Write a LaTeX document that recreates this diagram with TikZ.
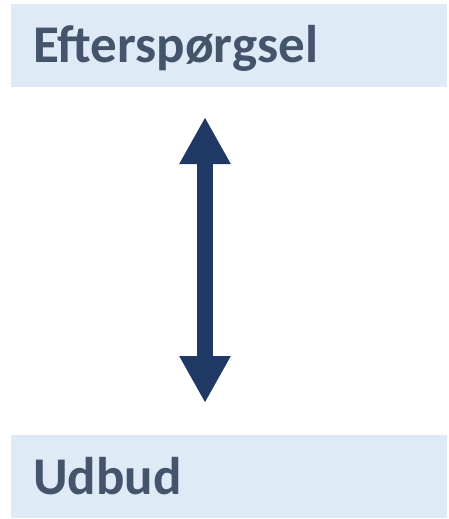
\documentclass[tikz,border=0pt]{standalone}
\usepackage{fontspec}
\setmainfont{Carlito}
\usetikzlibrary{arrows.meta}
\definecolor{boxfill}{HTML}{DEEAF6}
\definecolor{txt}{HTML}{44546A}
\definecolor{arr}{HTML}{1F3864}
\tikzset{
  band/.style={fill=boxfill, draw=none, minimum width=436pt, minimum height=83pt, inner sep=0pt, outer sep=0pt},
  lbl/.style={anchor=base west, text=txt, font=\fontsize{53}{58}\selectfont\bfseries, inner sep=0pt},
  dbl/.style={draw=arr, line width=16pt, {Triangle[width=48pt,length=47pt]}-{Triangle[width=48pt,length=47pt]}}
}
\begin{document}
\begin{tikzpicture}[x=1pt,y=1pt]
\useasboundingbox (0,0) rectangle (449,-519);
\node[band] (top) at (229,-45.5) {};
\node[band] (bot) at (229,-476.5) {};
\node[lbl] (toptxt) at (33,-63) {Efterspørgsel};
\node[lbl] (bottxt) at (33,-494) {Udbud};
\coordinate (a) at (205,-117);
\coordinate (b) at (205,-403);
\draw[dbl] (a) -- (b);
\end{tikzpicture}
\end{document}
